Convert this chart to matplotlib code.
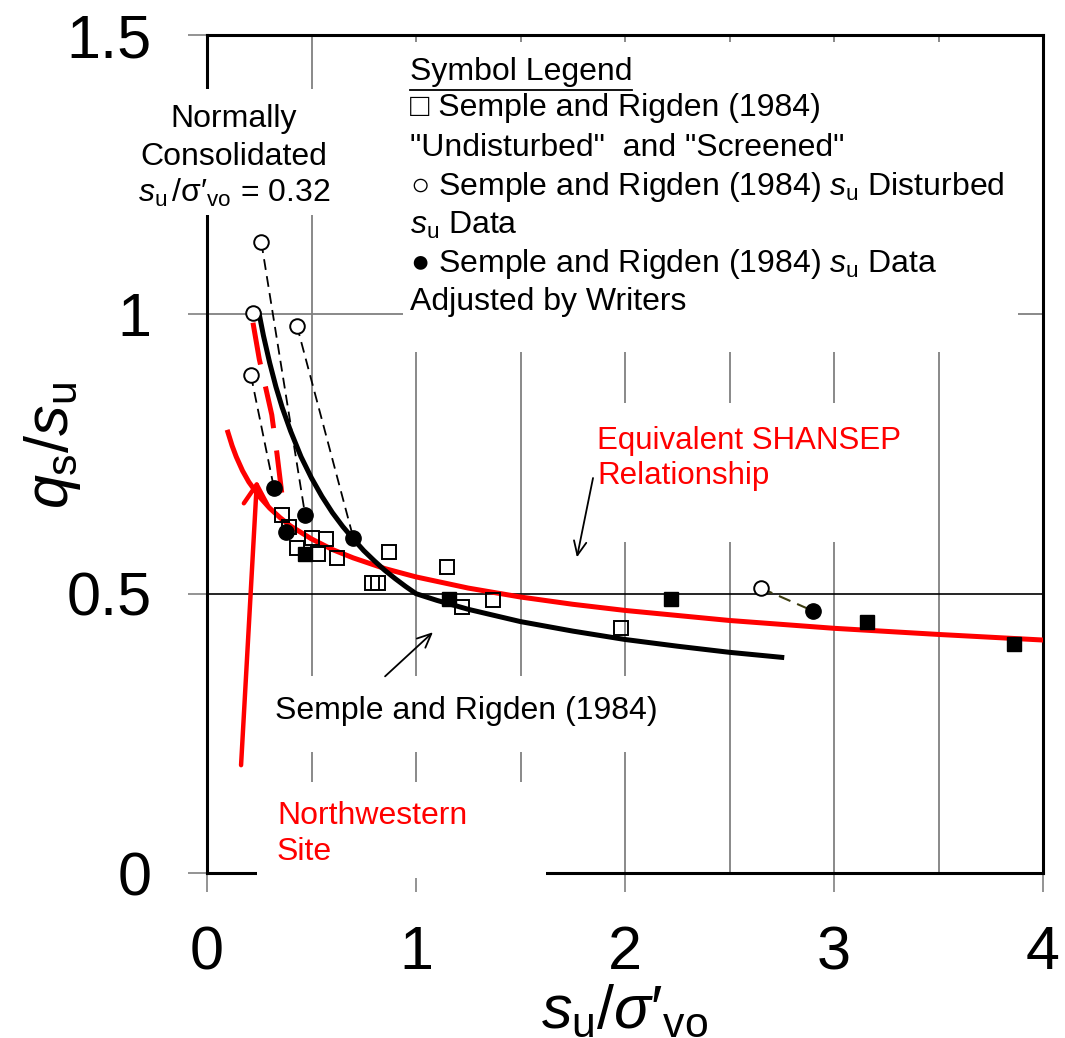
import matplotlib
matplotlib.use('Agg')
import matplotlib.pyplot as plt
from matplotlib.patches import Rectangle
from matplotlib.lines import Line2D

plt.rcParams['font.family'] = ['Liberation Sans', 'DejaVu Sans']
plt.rcParams['mathtext.fontset'] = 'custom'
plt.rcParams['mathtext.rm'] = 'Liberation Sans'
plt.rcParams['mathtext.it'] = 'Liberation Sans:italic'
plt.rcParams['mathtext.bf'] = 'Liberation Sans:bold'

# Semple and Rigden (1984) curve
sr_x = [0.25, 0.27, 0.30, 0.33, 0.36, 0.40, 0.45, 0.50, 0.55, 0.60, 0.65, 0.70, 0.75,
        0.80, 0.85, 0.90, 0.95, 1.00, 1.10, 1.25, 1.50, 1.75, 2.00, 2.25, 2.50, 2.75]
sr_y = [1.000, 0.962, 0.913, 0.870, 0.833, 0.791, 0.745, 0.707, 0.674, 0.645, 0.620, 0.598,
        0.577, 0.559, 0.542, 0.527, 0.513, 0.500, 0.488, 0.472, 0.450, 0.433, 0.418, 0.406,
        0.395, 0.386]

# Equivalent SHANSEP relationship
sh_x = [0.10, 0.12, 0.14, 0.17, 0.20, 0.25, 0.30, 0.35, 0.40, 0.50, 0.60, 0.70, 0.85,
        1.00, 1.25, 1.50, 1.75, 2.00, 2.50, 3.00, 3.50, 4.00]
sh_y = [0.789, 0.765, 0.745, 0.720, 0.700, 0.674, 0.653, 0.636, 0.621, 0.598, 0.579, 0.564,
        0.545, 0.530, 0.510, 0.494, 0.481, 0.470, 0.452, 0.438, 0.427, 0.417]

# Northwestern site (red dashed)
nw_x = [0.22, 0.25, 0.31, 0.335, 0.36]
nw_y = [0.985, 0.920, 0.820, 0.750, 0.673]

# "Undisturbed" and "Screened" (open squares)
und_x = [0.36, 0.39, 0.43, 0.50, 0.53, 0.57, 0.62, 0.79, 0.82, 0.87, 1.15, 1.22, 1.37, 1.98]
und_y = [0.640, 0.619, 0.581, 0.599, 0.571, 0.597, 0.563, 0.519, 0.519, 0.574, 0.548, 0.476, 0.488, 0.438]

# filled squares
fsq_x = [0.47, 1.16, 2.22, 3.16, 3.86]
fsq_y = [0.571, 0.490, 0.490, 0.449, 0.410]

# disturbed su (open circles) and adjusted by writers (filled circles)
dist_x = [0.26, 0.43, 0.21, 2.65, 0.22]
dist_y = [1.129, 0.980, 0.891, 0.510, 1.002]
adj_x = [0.47, 0.70, 0.32, 2.90, 0.38]
adj_y = [0.640, 0.600, 0.690, 0.469, 0.610]

fig = plt.figure(figsize=(10.65, 10.38), dpi=100)
ax = fig.add_axes([207 / 1065, 165 / 1038, 836 / 1065, 838 / 1038])
ax.set_xlim(0, 4)
ax.set_ylim(0, 1.5)
ax.set_xticks([0, 1, 2, 3, 4])
ax.set_yticks([0, 0.5, 1, 1.5])
ax.set_yticklabels(['0', '0.5', '1', '1.5'])
ax.tick_params(direction='out', length=13.7, width=1.2, color='#808080', labelsize=44)
ax.tick_params(axis='x', pad=24)
ax.tick_params(axis='y', pad=26)
for s in ax.spines.values():
    s.set_linewidth(2.2)
    s.set_zorder(2.5)

# grid
for xv in [0.5, 1.0, 1.5, 2.0, 2.5, 3.0, 3.5]:
    ax.axvline(xv, color='#808080', lw=1.3, zorder=1)
ax.axhline(1.0, color='#808080', lw=1.3, zorder=1)
ax.axhline(0.5, color='black', lw=1.2, zorder=1)

# white backgrounds behind the text blocks
boxes = [(-0.344, 1.177, 0.956, 0.227),
         (0.938, 0.932, 2.942, 0.555),
         (1.737, 0.592, 1.651, 0.249),
         (0.278, 0.216, 1.913, 0.136),
         (0.239, -0.009, 1.383, 0.172)]
for bx, by, bw, bh in boxes:
    ax.add_patch(Rectangle((bx, by), bw, bh, facecolor='white', edgecolor='none',
                           zorder=2.6, clip_on=False))

# dashed links disturbed -> adjusted
for i in range(3):
    ax.plot([dist_x[i], adj_x[i]], [dist_y[i], adj_y[i]], color='black', lw=1.3,
            dashes=(6, 3.5), zorder=3)
ax.plot([dist_x[3], adj_x[3]], [dist_y[3], adj_y[3]], color='#3d3d10', lw=1.5,
        dashes=(6, 3.5), zorder=3)

ax.plot(sh_x, sh_y, color='red', lw=3.6, zorder=3.2, solid_joinstyle='round')
ax.plot(sr_x, sr_y, color='black', lw=3.6, zorder=3.3, solid_joinstyle='round')
ax.plot(nw_x, nw_y, color='red', lw=3.6, dashes=(8.5, 4.5), zorder=3.4)

ax.plot(und_x, und_y, 's', ms=9.5, mfc='none', mec='black', mew=1.4, zorder=4)
ax.plot(fsq_x, fsq_y, 's', ms=10.5, mfc='black', mec='black', zorder=4)
ax.plot(dist_x, dist_y, 'o', ms=10.5, mfc='white', mec='black', mew=1.4, zorder=4)
ax.plot(adj_x, adj_y, 'o', ms=11, mfc='black', mec='black', zorder=4)

# arrows
ax.annotate('', xy=(0.239, 0.703), xytext=(0.163, 0.193),
            arrowprops=dict(arrowstyle='->,head_length=1.4,head_width=0.85', color='red',
                            lw=3.2, shrinkA=0, shrinkB=0), zorder=5)
ax.annotate('', xy=(1.081, 0.431), xytext=(0.852, 0.352),
            arrowprops=dict(arrowstyle='->,head_length=1.0,head_width=0.45', color='black',
                            lw=1.3, shrinkA=0, shrinkB=0), zorder=5)
ax.annotate('', xy=(1.770, 0.565), xytext=(1.847, 0.707),
            arrowprops=dict(arrowstyle='->,head_length=1.0,head_width=0.45', color='black',
                            lw=1.3, shrinkA=0, shrinkB=0), zorder=5)

fs = 23
# Normally consolidated note
ax.text(0.129, 1.3345, 'Normally', fontsize=fs, ha='center', va='baseline', zorder=5)
ax.text(0.129, 1.2665, 'Consolidated', fontsize=fs, ha='center', va='baseline', zorder=5)
ax.text(0.129, 1.2004, r"$s_\mathrm{u}\,/\mathrm{\sigma}\prime_\mathrm{vo}$ = 0.32", fontsize=fs,
        ha='center', va='baseline', zorder=5)

# symbol legend
leg_lines = ['Symbol Legend',
             '□ Semple and Rigden (1984)',
             '"Undisturbed"  and "Screened"',
             r'○ Semple and Rigden (1984) $s_\mathrm{u}$ Disturbed',
             r'$s_\mathrm{u}$ Data',
             r'● Semple and Rigden (1984) $s_\mathrm{u}$ Data',
             'Adjusted by Writers']
leg_y = [1.4186, 1.3542, 1.2826, 1.2129, 1.1431, 1.0751, 1.0072]
leg_texts = []
for txt, yy in zip(leg_lines, leg_y):
    leg_texts.append(ax.text(0.971, yy, txt, fontsize=fs, ha='left', va='baseline', zorder=5))

ax.text(1.866, 0.7585, 'Equivalent SHANSEP', fontsize=22.5, color='red', ha='left',
        va='baseline', zorder=5)
ax.text(1.866, 0.6959, 'Relationship', fontsize=22.5, color='red', ha='left',
        va='baseline', zorder=5)
ax.text(1.24, 0.2755, 'Semple and Rigden (1984)', fontsize=fs, ha='center',
        va='baseline', zorder=5)
ax.text(0.335, 0.0877, 'Northwestern', fontsize=fs, color='red', ha='left',
        va='baseline', zorder=5)
ax.text(0.335, 0.0233, 'Site', fontsize=fs, color='red', ha='left', va='baseline', zorder=5)

# axis labels
ax.text(-0.185, 0.51, r'$q_\mathrm{s}/s_\mathrm{u}$', fontsize=44, rotation=90,
        ha='center', va='center', transform=ax.transAxes)
ax.text(0.5, -0.166, r'$s_\mathrm{u}/\sigma\prime_\mathrm{vo}$', fontsize=44,
        ha='center', va='center', transform=ax.transAxes)

# underline the legend title
fig.canvas.draw()
bb = leg_texts[0].get_window_extent().transformed(fig.transFigure.inverted())
fig.add_artist(Line2D([bb.x0, bb.x1], [bb.y0 - 0.002, bb.y0 - 0.002], color='black', lw=1.3))

fig.savefig('out.png', dpi=100)
